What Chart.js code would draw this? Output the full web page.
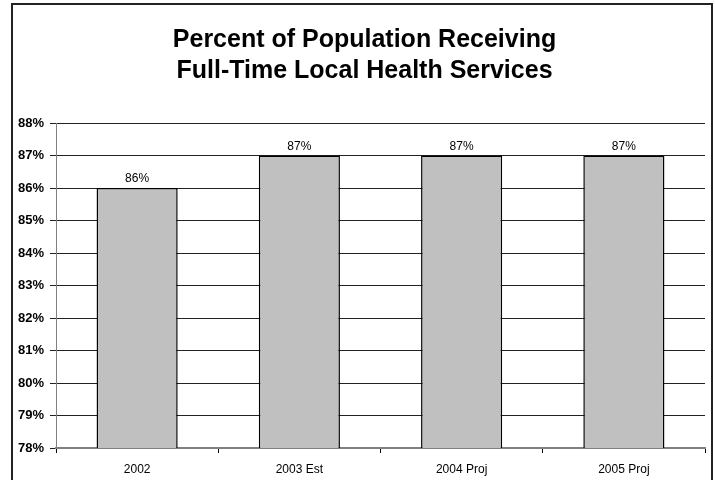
<!DOCTYPE html>
<html>
<head>
<meta charset="utf-8">
<script src="https://cdn.jsdelivr.net/npm/chart.js@4.4.0/dist/chart.umd.min.js"></script>
<style>
  body { margin: 0; background: #fff; }
  #frame { position: absolute; left: 11px; top: 3px; width: 698px; height: 600px; border: 2px solid #222; }
  #myChart { position: absolute; left: 0; top: 0; }
</style>
</head>
<body>
<div id="frame"></div>
<canvas id="myChart" width="715" height="480"></canvas>
<script>
const labels = ["2002", "2003 Est", "2004 Proj", "2005 Proj"];
const values = [86, 87, 87, 87];
const titleLines = ["Percent of Population Receiving", "Full-Time Local Health Services"];
const yMin = 78;
const yMax = 88;

const barLabels = {
  id: "barLabels",
  afterDatasetsDraw(chart) {
    const ctx = chart.ctx;
    const meta = chart.getDatasetMeta(0);
    ctx.save();
    ctx.font = "12px 'Liberation Sans', Arial, sans-serif";
    ctx.fillStyle = "#000";
    ctx.textAlign = "center";
    ctx.textBaseline = "alphabetic";
    meta.data.forEach((bar, i) => {
      ctx.fillText(values[i] + "%", bar.x, bar.y - 6);
    });
    ctx.restore();
  },
};

// title in the original sits a bit right of the canvas centre
const titleShift = {
  id: "titleShift",
  afterLayout(chart) {
    if (chart.titleBlock) chart.titleBlock.left += 24;
  },
};

const ctx = document.getElementById("myChart").getContext("2d");
new Chart(ctx, {
  type: "bar",
  data: {
    labels: labels,
    datasets: [
      {
        data: values,
        backgroundColor: "#C0C0C0",
        borderColor: "#000",
        borderWidth: 1.5,
        borderSkipped: false,
        categoryPercentage: 1,
        barPercentage: 0.5,
      },
    ],
  },
  options: {
    responsive: false,
    animation: false,
    layout: { padding: { left: 0, right: 10, top: 0, bottom: 0 } },
    plugins: {
      legend: { display: false },
      tooltip: { enabled: false },
      title: {
        display: true,
        text: titleLines,
        color: "#000",
        font: { family: "'Liberation Sans', Arial, sans-serif", size: 25, weight: "bold", lineHeight: 1.24 },
        padding: { top: 24.5, bottom: 36.5 },
      },
    },
    scales: {
      x: {
        offset: true,
        grid: { offset: true, drawOnChartArea: false, drawTicks: true, tickLength: 5, color: "#000" },
        border: { color: "#808080", width: 2 },
        ticks: {
          color: "#000",
          padding: 9,
          font: { family: "'Liberation Sans', Arial, sans-serif", size: 12 },
        },
        afterFit(scale) { scale.height = 32; },
      },
      y: {
        min: yMin,
        max: yMax,
        grid: { color: "#222", tickLength: 6, drawTicks: true },
        border: { color: "#808080", width: 1 },
        ticks: {
          stepSize: 1,
          color: "#000",
          padding: 6,
          font: { family: "'Liberation Sans', Arial, sans-serif", size: 13, weight: "bold" },
          callback: (v) => v + "%",
        },
        afterFit(scale) { scale.width = 56; },
      },
    },
  },
  plugins: [barLabels, titleShift],
});
</script>
</body>
</html>
